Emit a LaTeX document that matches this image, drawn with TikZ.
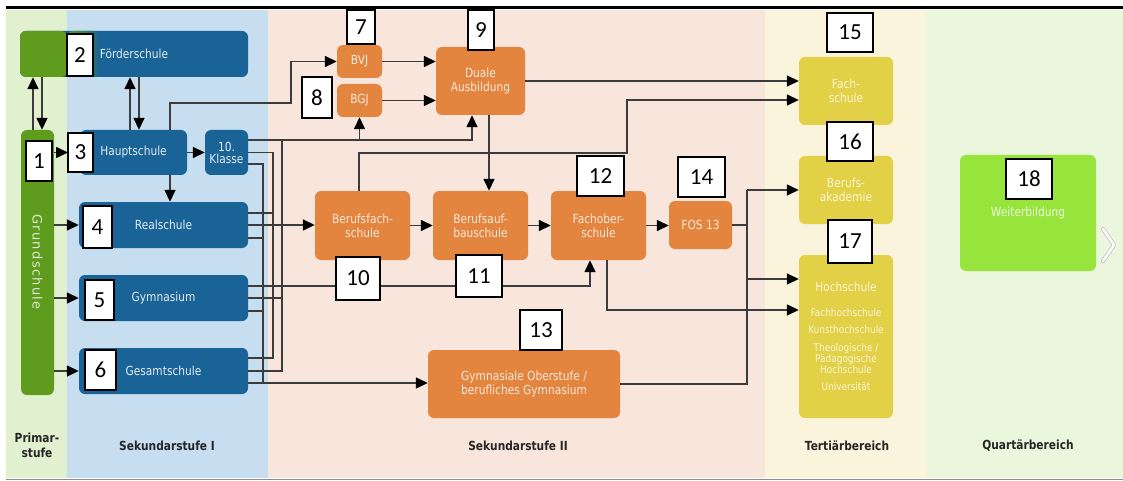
\documentclass[tikz,border=0pt]{standalone}
\usepackage{fontspec}
\setmainfont{DejaVu Sans}[FakeStretch=0.85]
\newfontfamily\numfont{Carlito}
\newfontfamily\spacedfont{DejaVu Sans}[LetterSpace=10]
\usetikzlibrary{arrows.meta, positioning, calc}

\definecolor{bandprim}{RGB}{225,240,207}
\definecolor{bandsekI}{RGB}{198,222,240}
\definecolor{bandsekII}{RGB}{248,230,220}
\definecolor{bandtert}{RGB}{250,244,220}
\definecolor{bandquart}{RGB}{235,247,220}
\definecolor{schoolblue}{RGB}{26,99,150}
\definecolor{schoolorange}{RGB}{227,132,63}
\definecolor{schoolyellow}{RGB}{226,209,71}
\definecolor{grundgreen}{RGB}{95,155,28}
\definecolor{weitergreen}{RGB}{151,228,60}
\definecolor{wire}{RGB}{60,60,60}

\newcommand\boxfont{\fontsize{12.5}{14}\selectfont}
\newcommand\smallboxfont{\fontsize{10.5}{13}\selectfont}

\begin{document}
\begin{tikzpicture}[x=1pt, y=-1pt,
    sekIbox/.style={fill=schoolblue, text=white!88!schoolblue, rounded corners=6pt,
      inner sep=0pt, align=center, font=\boxfont},
    sekIIbox/.style={fill=schoolorange, text=white!82!schoolorange, rounded corners=6pt,
      inner sep=0pt, align=center, font=\boxfont},
    tertbox/.style={fill=schoolyellow, text=white!78!schoolyellow, rounded corners=6pt,
      inner sep=0pt, align=center, font=\boxfont},
    numbox/.style={draw=black, fill=white, line width=1.2pt, inner sep=0pt,
      font=\numfont\fontsize{23}{23}\selectfont},
    stage/.style={align=center, text=black!85, font=\bfseries\fontsize{12.5}{15}\selectfont},
    line/.style={draw=wire, line width=1.5pt},
    arr/.style={line, -{Triangle[length=12pt, width=11pt, color=black]}}]

\useasboundingbox (0,0) rectangle (1123,481);

% bands
\fill[bandprim] (6,10) rectangle (67,478);
\fill[bandsekI] (67,10) rectangle (268,478);
\fill[bandsekII] (268,10) rectangle (765,478);
\fill[bandtert] (765,10) rectangle (926,478);
\fill[bandquart] (926,10) rectangle (1123,478);
\draw[black, line width=3pt] (6,8) -- (1123,8);
\draw[black!45, line width=0.8pt] (6,479) -- (1123,479);

% Primarstufe / Sekundarstufe I
\node[sekIbox, minimum width=228, minimum height=46,
  path picture={
    \fill[grundgreen] (path picture bounding box.south west)
      rectangle ([xshift=47pt]path picture bounding box.north west);
    \shade[left color=grundgreen, right color=schoolblue]
      ([xshift=47pt]path picture bounding box.south west)
      rectangle ([xshift=80pt]path picture bounding box.north west);
  }] (foerder) at (134,54) {Förderschule};
\node[fill=grundgreen, rounded corners=6pt, minimum width=33, minimum height=265,
  inner sep=0pt] (grund) at (37.5,262.5) {};
\node[rotate=-90, text=white!80!grundgreen, font=\spacedfont\fontsize{13}{15}\selectfont] (grundtxt) at (37.5,262) {Grundschule};
\node[sekIbox, minimum width=107, minimum height=45] (haupt) at (133.5,152.5) {Hauptschule};
\node[sekIbox, minimum width=43, minimum height=45] (klasse10) at (226.5,152.5) {10.\\[-2pt]Klasse};
\node[sekIbox, minimum width=169, minimum height=46] (real) at (163.5,225) {Realschule};
\node[sekIbox, minimum width=169, minimum height=46] (gym) at (163.5,298) {Gymnasium};
\node[sekIbox, minimum width=169, minimum height=46] (gesamt) at (163.5,371) {Gesamtschule};

% Sekundarstufe II
\node[sekIIbox, minimum width=45, minimum height=33] (bvj) at (359.5,61.5) {BVJ};
\node[sekIIbox, minimum width=45, minimum height=33] (bgj) at (359.5,100.5) {BGJ};
\node[sekIIbox, minimum width=89, minimum height=68] (duale) at (480.5,81) {Duale\\Ausbildung};
\node[sekIIbox, minimum width=95, minimum height=69] (bfs) at (362.5,225.5) {Berufsfach-\\schule};
\node[sekIIbox, minimum width=95, minimum height=69] (bas) at (480.5,225.5) {Berufsauf-\\bauschule};
\node[sekIIbox, minimum width=95, minimum height=69] (fos) at (598.5,225.5) {Fachober-\\schule};
\node[sekIIbox, minimum width=63, minimum height=48] (fos13) at (700.5,225) {FOS 13};
\node[sekIIbox, minimum width=192, minimum height=68] (gymob) at (524,384) {Gymnasiale Oberstufe /\\berufliches Gymnasium};

% Tertiaer- und Quartaerbereich
\node[tertbox, minimum width=94, minimum height=68] (fach) at (846,91) {Fach-\\schule};
\node[tertbox, minimum width=94, minimum height=68] (akad) at (846,190) {Berufs-\\akademie};
\node[tertbox, minimum width=94, minimum height=163, font=\smallboxfont] (hoch) at (846,336.5)
  {{\boxfont Hochschule}\\[12pt]Fachhochschule\\[4pt]Kunsthochschule\\[5pt]Theologische /\\[-2pt]Pädagogische\\[-2pt]Hochschule\\[4pt]Universität};
\node[fill=weitergreen, text=white!82!weitergreen, rounded corners=6pt, inner sep=0pt,
  font=\boxfont, minimum width=136, minimum height=116] (weiter) at (1028,213) {Weiterbildung};
\draw[black!25, line width=4pt, line cap=round, line join=round] (1103,229) -- (1114,245) -- (1103,261);
\draw[white, line width=2.5pt, line cap=round, line join=round] (1103,229) -- (1114,245) -- (1103,261);

% bus points
\coordinate (bend1) at (291,103);
\coordinate (bend2) at (627,153);
\coordinate (busA) at (263,383);
\coordinate (busB) at (273,358);
\coordinate (busC) at (282,140);
\coordinate (t1) at (747,190);
\coordinate (t2) at (747,279);
\coordinate (t3) at (747,384);

% connectors
\draw[arr] ([xshift=-4.5pt]grund.north) -- ([xshift=-4.5pt]grund.north |- foerder.south);
\draw[arr] ([xshift=4.5pt]grund.north |- foerder.south) -- ([xshift=4.5pt]grund.north);
\draw[arr] ([xshift=-3.5pt]haupt.north) -- ([xshift=-3.5pt]haupt.north |- foerder.south);
\draw[arr] ([xshift=5.5pt]haupt.north |- foerder.south) -- ([xshift=5.5pt]haupt.north);
\draw[arr] (grund.east |- haupt) -- (haupt -| 68,0);
\draw[arr] (grund.east |- real) -- (real.west);
\draw[arr] (grund.east |- gym) -- (gym.west);
\draw[arr] (grund.east |- gesamt) -- (gesamt.west);
\draw[arr] (haupt.east) -- (klasse10.west);
\draw[arr] ([xshift=36.5pt]haupt.south) -- ([xshift=36.5pt]haupt.south |- real.north);
\draw[arr] ([xshift=36.5pt]haupt.north) |- (bend1) |- (bvj.west);

\draw[line] ([yshift=-11.5pt]klasse10.east) -| (busA);
\draw[line] ([yshift=-13pt]real.east) -- ([yshift=-13pt]real.east -| busA);
\draw[line] ([yshift=-13pt]gym.east) -- ([yshift=-13pt]gym.east -| busA);
\draw[arr] ([yshift=-12pt]gesamt.east) -- ([yshift=-12pt]gesamt.east -| gymob.west);
\draw[line] (klasse10.east) -| (busB) -- ([yshift=13pt]gesamt.east);
\draw[line] ([yshift=12pt]real.east) -- ([yshift=12pt]real.east -| busB);
\draw[line] (gesamt.east) -| (busC);
\draw[line] (gym.east) -- (gym.east -| busC);
\draw[arr] ([yshift=12.5pt]klasse10.east) -| ([xshift=-8.5pt]duale.south);
\draw[arr] (bgj.south |- busC) -- (bgj.south);
\draw[arr] (real.east) -- (real.east -| bfs.west);
\draw[arr] ([yshift=12pt]gym.east) -| ([xshift=-8.5pt]fos.south);

\draw[arr] (bvj.east) -- (bvj.east -| duale.west);
\draw[arr] (bgj.east) -- (bgj.east -| duale.west);
\draw[arr] (duale.east) -- (duale.east -| fach.west);
\draw[arr] ([xshift=8.5pt]duale.south) -- ([xshift=8.5pt]duale.south |- bas.north);
\draw[arr] ([xshift=-3.5pt]bfs.north) |- (bend2) |- ([yshift=-9pt]fach.west);
\draw[arr] (bfs.east) -- (bas.west);
\draw[arr] (bas.east) -- (fos.west);
\draw[arr] (fos.east) -- (fos.east -| fos13.west);
\draw[line] (fos13.east) -- (fos13.east -| t1);
\draw[line] (gymob.east) -- (t3) -- (t1);
\draw[arr] (t1) -- (akad.west);
\draw[arr] (t2) -- (t2 -| hoch.west);
\draw[arr] ([xshift=8.5pt]fos.south) |- ([yshift=26.5pt]hoch.west);

% numbers
\node[numbox, minimum width=26, minimum height=42] (n2) at (80,55) {2};
\node[numbox, minimum width=26, minimum height=40] (n1) at (39,161) {1};
\node[numbox, minimum width=25, minimum height=39] (n3) at (80.5,152.5) {3};
\node[numbox, minimum width=29, minimum height=42] (n4) at (97.5,227) {4};
\node[numbox, minimum width=29, minimum height=40] (n5) at (99.5,300) {5};
\node[numbox, minimum width=31, minimum height=40] (n6) at (100.5,370) {6};
\node[numbox, minimum width=28, minimum height=34] (n7) at (361,27) {7};
\node[numbox, minimum width=30, minimum height=41] (n8) at (317,97.5) {8};
\node[numbox, minimum width=26, minimum height=40] (n9) at (481,30) {9};
\node[numbox, minimum width=44, minimum height=43] (n10) at (358,278.5) {10};
\node[numbox, minimum width=46, minimum height=42] (n11) at (479,276) {11};
\node[numbox, minimum width=47, minimum height=40] (n12) at (600.5,176) {12};
\node[numbox, minimum width=42, minimum height=40] (n13) at (541,330) {13};
\node[numbox, minimum width=47, minimum height=40] (n14) at (701.5,177) {14};
\node[numbox, minimum width=46, minimum height=39] (n15) at (850,32.5) {15};
\node[numbox, minimum width=46, minimum height=39] (n16) at (850,141.5) {16};
\node[numbox, minimum width=44, minimum height=43] (n17) at (850,241.5) {17};
\node[numbox, minimum width=46, minimum height=40] (n18) at (1029,179) {18};

% stages
\node[stage] (lblprim) at (37,445) {Primar-\\stufe};
\node[stage] (lblsekI) at (167,446) {Sekundarstufe I};
\node[stage] (lblsekII) at (518,446) {Sekundarstufe II};
\node[stage] (lbltert) at (847,446) {Tertiärbereich};
\node[stage] (lblquart) at (1028,446) {Quartärbereich};
\end{tikzpicture}
\end{document}
